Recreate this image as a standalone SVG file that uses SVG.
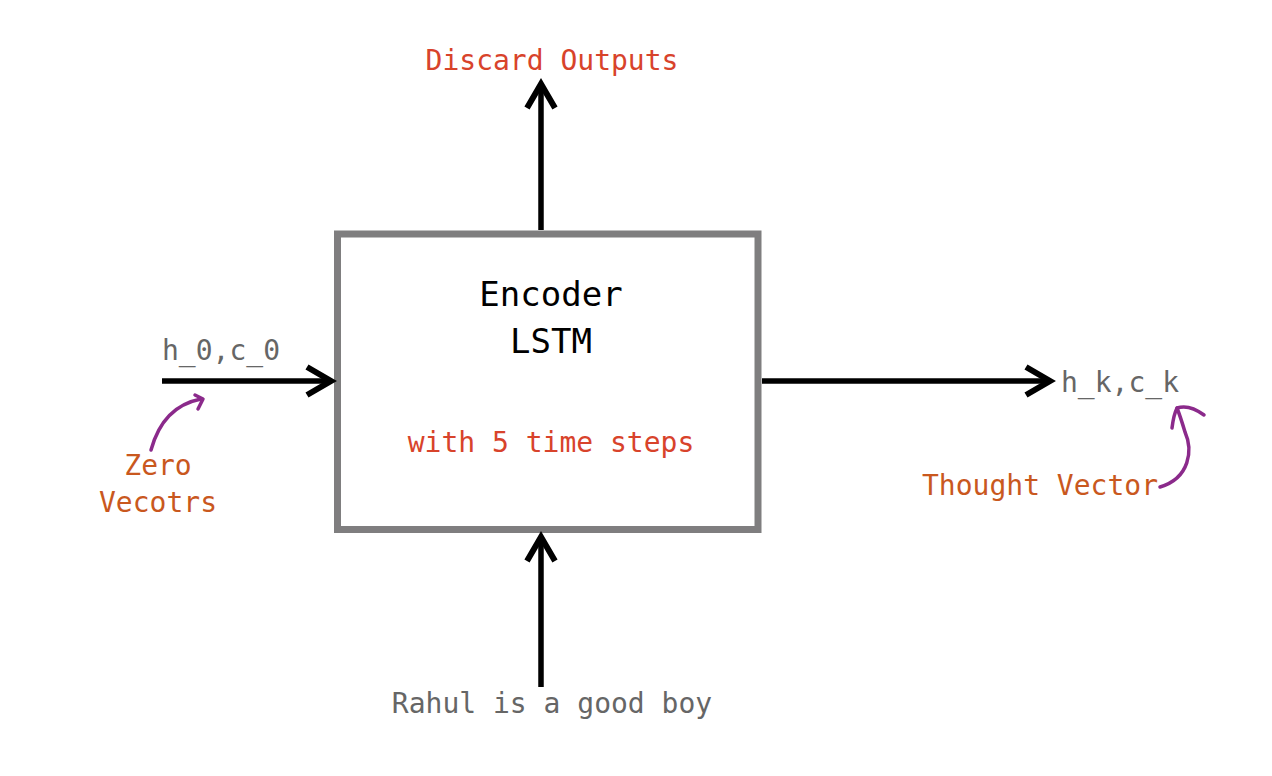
<svg xmlns="http://www.w3.org/2000/svg" width="1272" height="776" viewBox="0 0 1272 776">
<style>
text{font-family:"DejaVu Sans Mono","Liberation Mono",monospace;font-size:28px}
.gray{fill:#666666}
.red{fill:#D8432B}
.orange{fill:#C9581E}
.title{fill:#000000;font-size:34px}
.arrow{stroke:#000;stroke-width:5.5;fill:none;stroke-linecap:butt}
.head{stroke:#000;stroke-width:6;fill:none;stroke-linejoin:miter;stroke-linecap:butt}
.purple{stroke:#8B2A8B;stroke-width:3.5;fill:none;stroke-linecap:round;stroke-linejoin:round}
</style>
<rect width="1272" height="776" fill="#ffffff"/>
<g id="encoder">
<rect x="337.5" y="234" width="420.5" height="295.5" fill="#ffffff" stroke="#7f7e7f" stroke-width="7"/>
<text class="title" x="551" y="306" text-anchor="middle">Encoder</text>
<text class="title" x="551" y="353" text-anchor="middle">LSTM</text>
<text class="red" x="551" y="452" text-anchor="middle">with 5 time steps</text>
</g>
<g id="discard">
<text class="red" x="552" y="70" text-anchor="middle">Discard Outputs</text>
</g>
<g id="input">
<text class="gray" x="552" y="713" text-anchor="middle">Rahul is a good boy</text>
</g>
<g id="initial-state">
<text class="gray" x="162" y="360">h_0,c_0</text>
<text class="orange" x="158" y="475" text-anchor="middle">Zero</text>
<text class="orange" x="158" y="512" text-anchor="middle">Vecotrs</text>
</g>
<g id="final-state">
<text class="gray" x="1061" y="392">h_k,c_k</text>
<text class="orange" x="922" y="495">Thought Vector</text>
</g>
<g id="connectors">
<line class="arrow" x1="541" y1="230" x2="541" y2="84"/>
<polyline class="head" points="527,108 541,84 555,108"/>
<line class="arrow" x1="541" y1="687" x2="541" y2="538"/>
<polyline class="head" points="527,561 541,537 555,561"/>
<line class="arrow" x1="162" y1="381" x2="330" y2="381"/>
<polyline class="head" points="307,367 331,381 307,395"/>
<line class="arrow" x1="762" y1="381" x2="1048" y2="381"/>
<polyline class="head" points="1026,367 1050,381 1026,395"/>
<path class="purple" d="M151,450 C157,428 170,405 201,399"/>
<path class="purple" d="M195,395 L203,399 L198,409"/>
<path class="purple" d="M1160,487 C1190,478 1193,450 1185,432 C1182,422 1179,413 1177,408"/>
<path class="purple" d="M1172,428 C1173,420 1175,412 1177,408 C1186,405 1196,409 1204,415"/>
</g>
</svg>
